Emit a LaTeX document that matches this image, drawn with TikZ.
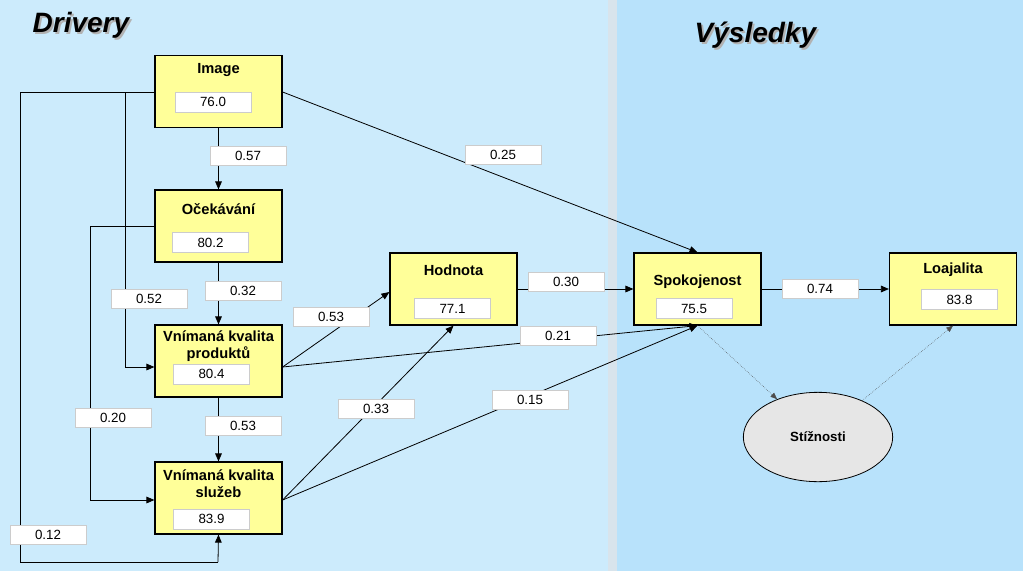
\documentclass[tikz,border=0pt]{standalone}
\usepackage{fontspec}
\setmainfont{Liberation Sans}
\usetikzlibrary{arrows.meta,shapes.geometric}
\definecolor{lp}{HTML}{CCEBFC}
\definecolor{rp}{HTML}{B8E2FB}
\definecolor{gp}{HTML}{D8E4EC}
\definecolor{yb}{HTML}{FFFF99}
\definecolor{el}{HTML}{E6E6E6}
\tikzset{
 box/.style={draw, fill=yb, line width=0.9pt, minimum width=95.25pt, minimum height=54pt, inner sep=0pt},
 val/.style={draw=gray!40, fill=white, minimum width=57pt, minimum height=15pt, inner sep=0pt, font=\fontsize{10}{11}\selectfont},
 lab/.style={draw=gray!40, fill=white, minimum width=57pt, minimum height=14.5pt, inner sep=0pt, font=\fontsize{10}{11}\selectfont},
 ttl/.style={font=\fontsize{11}{13}\selectfont\bfseries, align=center},
 con/.style={line width=0.6pt, -{Triangle[length=6pt,width=5pt]}},
 plain/.style={line width=0.6pt},
 dot/.style={line width=0.4pt, densely dotted, gray!60!black, -{Triangle[length=5pt,width=4pt]}},
 head/.style={font=\fontsize{21}{24}\selectfont\bfseries\itshape, anchor=west}
}
\begin{document}
\begin{tikzpicture}[x=0.75pt,y=-0.75pt]
\useasboundingbox (0,0) rectangle (1023,571);
\fill[lp] (0,0) rectangle (610,571);
\fill[gp] (608,0) rectangle (617,571);
\fill[rp] (617,0) rectangle (1023,571);
\node[head, gray!60] at (30,27) {Drivery};
\node[head] (tD) at (28,25) {Drivery};
\node[head, gray!60] at (692,37) {Výsledky};
\node[head] (tV) at (690,35) {Výsledky};
% boxes
\node[box] (im) at (218.5,91.5) {};
\node[ttl] at (218.5,70) {Image};
\node[val] (imv) at (213,102) {76.0};
\node[box] (oc) at (218.5,226) {};
\node[ttl] at (218.5,209) {Očekávání};
\node[val] (ocv) at (210.5,242.5) {80.2};
\node[box] (pr) at (218.5,361) {};
\node[ttl] at (218.5,346) {Vnímaná kvalita\\produktů};
\node[val] (prv) at (211.5,374) {80.4};
\node[box] (sl) at (218.5,498) {};
\node[ttl] at (218.5,484) {Vnímaná kvalita\\služeb};
\node[val] (slv) at (211.5,519) {83.9};
\node[box] (ho) at (453.5,289) {};
\node[ttl] at (453.5,270) {Hodnota};
\node[val] (hov) at (452.5,308.5) {77.1};
\node[box] (sp) at (697.5,289) {};
\node[ttl] at (697.5,282) {Spokojenost};
\node[val] (spv) at (694,308.5) {75.5};
\node[box] (lo) at (953,289) {};
\node[ttl] at (953,270) {Loajalita};
\node[val] (lov) at (959.5,299.5) {83.8};
\node[draw, fill=el, line width=0.6pt, ellipse, minimum width=112pt, minimum height=67pt, inner sep=0pt, font=\fontsize{10}{12}\selectfont\bfseries] (st) at (818,437) {Stížnosti};
% coordinates
\coordinate (a1) at (20,92);
\coordinate (a2) at (20,562);
\coordinate (a3) at (218,562);
\coordinate (b1) at (125,92);
\coordinate (b2) at (125,367);
\coordinate (c1) at (90,226);
\coordinate (c2) at (90,500);
% connectors
\draw[con] (im.south) -- (oc.north);
\draw[con] (oc.south) -- (pr.north);
\draw[con] (pr.south) -- (sl.north);
\draw[con] (im.east |- 0,92) -- (sp.north);
\draw[plain] (im.west |- a1) -- (a1) -- (a2) -- (a3);
\draw[con] (a3) -- (sl.south);
\draw[con] (b1) -- (b2) -- (pr.west |- b2);
\draw[con] (oc.west) -- (c1) -- (c2) -- (sl.west |- c2);
\draw[con] (pr.east |- 0,367) -- (ho.west |- 0,292);
\draw[con] (pr.east |- 0,367) -- (sp.south);
\draw[con] (sl.east |- 0,500) -- (ho.south);
\draw[con] (sl.east |- 0,500) -- (sp.south);
\draw[con] (ho.east) -- (sp.west);
\draw[con] (sp.east) -- (lo.west);
\draw[dot] (sp.south) -- (st);
\draw[dot] (st) -- (lo.south);
% labels
\node[lab] at (248,156) {0.57};
\node[lab] at (503,155) {0.25};
\node[lab] at (243,291) {0.32};
\node[lab] at (149,299) {0.52};
\node[lab] at (331,317) {0.53};
\node[lab] at (566,282) {0.30};
\node[lab] at (820,289) {0.74};
\node[lab] at (558,336) {0.21};
\node[lab] at (376,409) {0.33};
\node[lab] at (530,400) {0.15};
\node[lab] at (243,426) {0.53};
\node[lab] at (113,418) {0.20};
\node[lab] at (48,535) {0.12};
\end{tikzpicture}
\end{document}
